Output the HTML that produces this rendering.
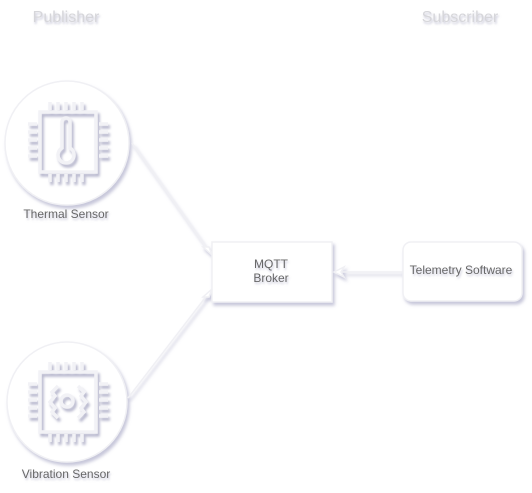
<!DOCTYPE html>
<html><head><meta charset="utf-8"><style>
html,body{margin:0;padding:0;background:#fff;}
svg{display:block;}
text{font-family:"Liberation Sans",sans-serif;fill:#666;}
</style></head><body>
<svg width="532" height="493" viewBox="0 0 532 493" xmlns="http://www.w3.org/2000/svg">
<defs>
<filter id="sh" x="-30%" y="-30%" width="160%" height="160%">
<feDropShadow dx="2" dy="3" stdDeviation="1.6" flood-color="#b8b8d0" flood-opacity="0.8"/>
</filter>
<filter id="sh2" x="-30%" y="-30%" width="160%" height="160%">
<feDropShadow dx="2" dy="3" stdDeviation="1.4" flood-color="#b0b0c8" flood-opacity="0.9"/>
</filter>
<filter id="ts" x="-10%" y="-30%" width="120%" height="160%">
<feDropShadow dx="1" dy="2" stdDeviation="1" flood-color="#b0b0c8" flood-opacity="0.7"/>
</filter>
</defs>
<g filter="url(#sh)" stroke="#f0f0f4" fill="#fff" stroke-width="1.5">
<circle cx="67" cy="143" r="62"/>
<circle cx="67" cy="402" r="60"/>
<rect x="212" y="242" width="120" height="60"/>
<rect x="403" y="242" width="119" height="59" rx="8"/>
<line x1="132" y1="143" x2="208" y2="250" fill="none"/>
<line x1="128" y1="398" x2="208" y2="294" fill="none"/>
<line x1="403" y1="272" x2="342" y2="272" fill="none"/>
<path d="M334 272 L344 267 L341 272 L344 277 Z"/>
<path d="M212 255 L203 247 L209 247 Z"/>
<path d="M212 289 L203 297 L209 297 Z"/>
</g>
<g filter="url(#sh2)" fill="none" stroke="#f2f2f6" stroke-width="3.5">
<rect x="40" y="112" width="56" height="60"/>
<path d="M50 102v8M58 102v8M66 102v8M74 102v8M82 102v8M50 174v8M58 174v8M66 174v8M74 174v8M82 174v8M28 124h9M28 132h9M28 140h9M28 148h9M28 156h9M99 124h9M99 132h9M99 140h9M99 148h9M99 156h9"/>
<path d="M62 122a4 4 0 0 1 8 0v26a8 8 0 1 1 -8 0z"/>
<rect x="40" y="372" width="56" height="60"/>
<path d="M50 362v8M58 362v8M66 362v8M74 362v8M82 362v8M50 434v8M58 434v8M66 434v8M74 434v8M82 434v8M28 384h9M28 392h9M28 400h9M28 408h9M28 416h9M99 384h9M99 392h9M99 400h9M99 408h9M99 416h9"/>
<path d="M58 386l-6 6 3 4-5 6 5 6-3 4 6 6M78 386l6 6-3 4 5 6-5 6 3 4-6 6"/>
<circle cx="67" cy="401" r="6"/>
</g>
<g filter="url(#ts)">
<text x="66" y="22" font-size="16" text-anchor="middle" style="fill:#d6d6da">Publisher</text>
<text x="460" y="22" font-size="16" text-anchor="middle" style="fill:#d6d6da">Subscriber</text>
<text x="66" y="218" font-size="12" text-anchor="middle">Thermal Sensor</text>
<text x="66" y="478" font-size="12" text-anchor="middle">Vibration Sensor</text>
<text x="271" y="268" font-size="12" text-anchor="middle">MQTT</text>
<text x="271" y="282" font-size="12" text-anchor="middle">Broker</text>
<text x="461" y="274" font-size="12" text-anchor="middle">Telemetry Software</text>
</g>
</svg>
</body></html>
